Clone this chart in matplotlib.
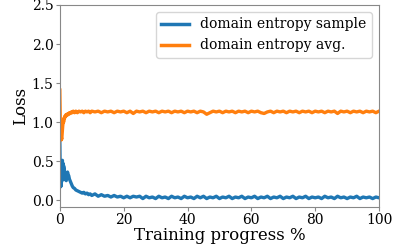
import matplotlib
matplotlib.use("Agg")
import matplotlib.pyplot as plt

# training progress (%) and loss values
progress = [0, 0.1, 0.2, 0.3, 0.4, 0.5, 0.6, 0.7, 0.8, 0.9, 1.0, 1.1, 1.2,
            1.3, 1.4, 1.5, 1.6, 1.8, 2.0, 2.2, 2.4, 2.6, 2.8, 3.0, 3.3, 3.6,
            3.9, 4.2, 4.6, 5.0, 5.5, 6.0, 6.5, 7.0, 7.5, 8.0, 8.5, 9.0, 9.5,
            10, 11, 12, 13, 14, 15, 16, 17, 18, 19, 20, 21, 22, 23, 24, 25,
            26, 27, 28, 29, 30, 31, 32, 33, 34, 35, 36, 37, 38, 39, 40, 41,
            42, 43, 44, 45, 46, 47, 48, 49, 50, 51, 52, 53, 54, 55, 56, 57,
            58, 59, 60, 61, 62, 63, 64, 65, 66, 67, 68, 69, 70, 71, 72, 73,
            74, 75, 76, 77, 78, 79, 80, 81, 82, 83, 84, 85, 86, 87, 88, 89,
            90, 91, 92, 93, 94, 95, 96, 97, 98, 99, 100]

entropy_sample = [0.76, 0.40, 0.17, 0.22, 0.18, 0.30, 0.24, 0.45, 0.51, 0.38,
                  0.47, 0.33, 0.44, 0.30, 0.40, 0.27, 0.33, 0.26, 0.25, 0.30,
                  0.36, 0.33, 0.31, 0.27, 0.24, 0.21, 0.18, 0.16, 0.15, 0.13,
                  0.12, 0.11, 0.10, 0.09, 0.10, 0.08, 0.09, 0.07, 0.08, 0.06,
                  0.08, 0.05, 0.07, 0.05, 0.06, 0.04, 0.06, 0.04, 0.05, 0.03,
                  0.05, 0.03, 0.05, 0.04, 0.05, 0.02, 0.05, 0.03, 0.04, 0.02,
                  0.05, 0.03, 0.04, 0.02, 0.05, 0.03, 0.04, 0.02, 0.05, 0.03,
                  0.04, 0.02, 0.05, 0.03, 0.05, 0.02, 0.04, 0.03, 0.05, 0.02,
                  0.04, 0.03, 0.05, 0.02, 0.04, 0.03, 0.05, 0.02, 0.04, 0.03,
                  0.05, 0.02, 0.04, 0.03, 0.05, 0.02, 0.04, 0.03, 0.05, 0.02,
                  0.04, 0.03, 0.05, 0.02, 0.04, 0.03, 0.05, 0.02, 0.04, 0.03,
                  0.04, 0.02, 0.05, 0.03, 0.04, 0.02, 0.05, 0.03, 0.04, 0.02,
                  0.04, 0.03, 0.05, 0.02, 0.04, 0.03, 0.04, 0.02, 0.04, 0.03]

entropy_avg = [1.41, 1.10, 0.85, 0.78, 0.77, 0.80, 0.78, 0.84, 0.88, 0.95,
               0.98, 1.02, 1.00, 1.05, 1.04, 1.07, 1.06, 1.09, 1.08, 1.10,
               1.09, 1.11, 1.10, 1.12, 1.11, 1.13, 1.12, 1.14, 1.12, 1.14,
               1.12, 1.14, 1.13, 1.14, 1.12, 1.14, 1.13, 1.14, 1.12, 1.14,
               1.13, 1.14, 1.12, 1.14, 1.13, 1.14, 1.12, 1.14, 1.13, 1.14,
               1.12, 1.14, 1.11, 1.14, 1.13, 1.14, 1.12, 1.14, 1.13, 1.14,
               1.12, 1.14, 1.13, 1.14, 1.12, 1.14, 1.13, 1.14, 1.12, 1.14,
               1.13, 1.14, 1.12, 1.14, 1.13, 1.10, 1.12, 1.14, 1.13, 1.14,
               1.12, 1.14, 1.13, 1.14, 1.12, 1.14, 1.13, 1.14, 1.12, 1.14,
               1.13, 1.14, 1.12, 1.11, 1.13, 1.14, 1.12, 1.14, 1.13, 1.14,
               1.12, 1.14, 1.13, 1.14, 1.12, 1.14, 1.13, 1.14, 1.12, 1.14,
               1.13, 1.14, 1.12, 1.14, 1.13, 1.14, 1.11, 1.14, 1.13, 1.14,
               1.12, 1.14, 1.13, 1.14, 1.12, 1.14, 1.13, 1.14, 1.12, 1.14]

plt.rcParams['font.family'] = ['DejaVu Serif']

fig, ax = plt.subplots(figsize=(3.99, 2.49), dpi=100)
ax.plot(progress, entropy_sample, color='#1f77b4', linewidth=2.4,
        label='domain entropy sample')
ax.plot(progress, entropy_avg, color='#ff7f0e', linewidth=2.4,
        label='domain entropy avg.')

ax.set_xlim(0, 100)
ax.set_ylim(-0.09, 2.5)
ax.set_xticks([0, 20, 40, 60, 80, 100])
ax.set_yticks([0.0, 0.5, 1.0, 1.5, 2.0, 2.5])
ax.tick_params(labelsize=10, color='#888888', length=3, pad=1.5)
for side in ax.spines.values():
    side.set_color('#888888')
ax.set_xlabel('Training progress %', fontsize=12, labelpad=0)
ax.set_ylabel('Loss', fontsize=12, labelpad=2)
leg = ax.legend(loc='upper right', fontsize=10, handlelength=2)
for line in leg.get_lines():
    line.set_linewidth(2.5)

fig.subplots_adjust(left=0.15, right=0.95, bottom=0.168, top=0.98)
fig.savefig('out.png', dpi=100)
